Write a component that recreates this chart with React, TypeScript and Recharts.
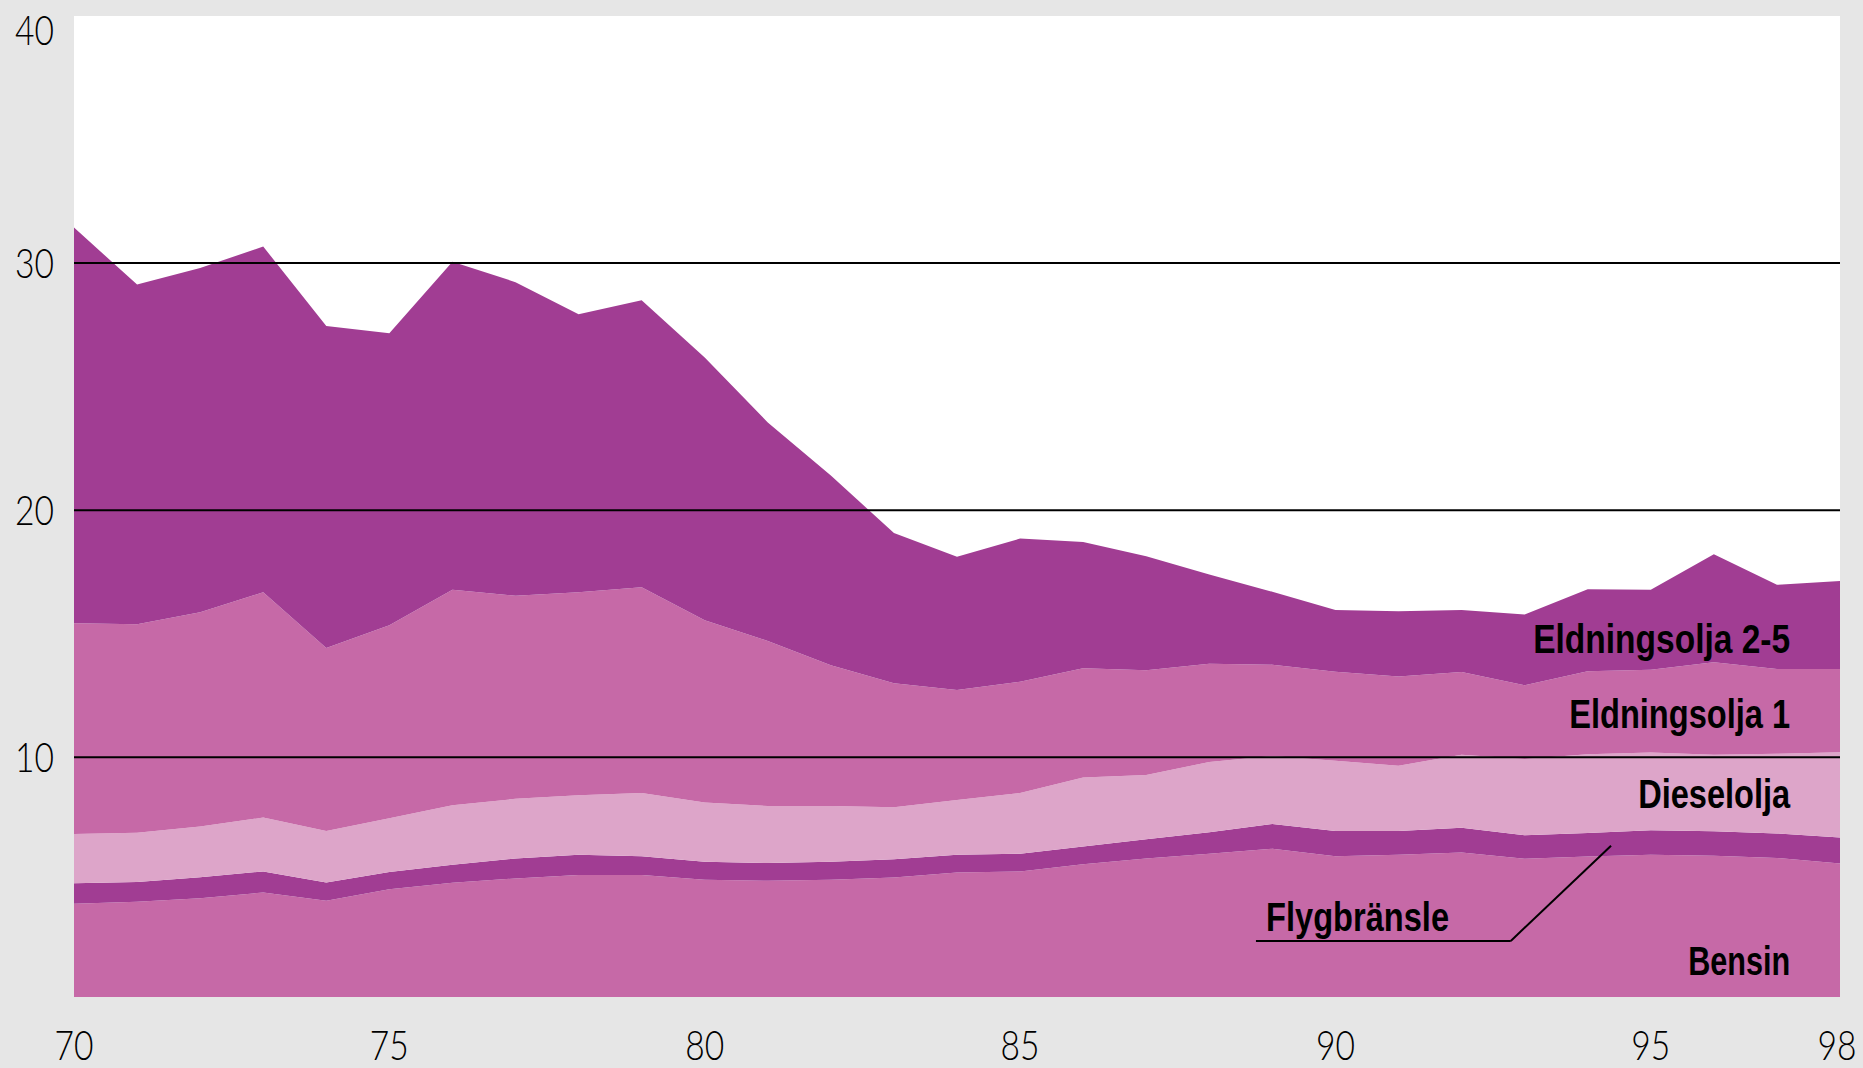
import { AreaChart, Area, XAxis, YAxis, CartesianGrid, ReferenceLine, ReferenceDot } from 'recharts'

// år 1970–1998, miljoner m3
const years = [70, 71, 72, 73, 74, 75, 76, 77, 78, 79, 80, 81, 82, 83, 84, 85, 86, 87, 88, 89, 90, 91, 92, 93, 94, 95, 96, 97, 98]
const bensin = [4.07, 4.15, 4.3, 4.53, 4.2, 4.66, 4.92, 5.1, 5.24, 5.24, 5.05, 5.0, 5.05, 5.14, 5.34, 5.38, 5.67, 5.91, 6.1, 6.3, 6.0, 6.06, 6.15, 5.89, 5.99, 6.06, 6.02, 5.93, 5.7]
const flyg = [0.83, 0.8, 0.85, 0.85, 0.73, 0.7, 0.73, 0.81, 0.82, 0.76, 0.72, 0.72, 0.72, 0.73, 0.72, 0.72, 0.72, 0.77, 0.87, 1.0, 1.02, 0.96, 1.0, 0.96, 0.95, 0.99, 0.99, 0.99, 1.05]
const diesel = [2.0, 2.0, 2.05, 2.18, 2.09, 2.17, 2.41, 2.41, 2.4, 2.56, 2.4, 2.31, 2.26, 2.11, 2.21, 2.46, 2.79, 2.6, 2.84, 2.75, 2.84, 2.64, 2.95, 3.08, 3.18, 3.14, 3.09, 3.22, 3.45]
const eo1 = [8.53, 8.43, 8.67, 9.12, 7.4, 7.81, 8.72, 8.22, 8.22, 8.32, 7.38, 6.68, 5.7, 5.02, 4.45, 4.5, 4.42, 4.24, 3.98, 3.7, 3.6, 3.61, 3.35, 2.99, 3.36, 3.35, 3.75, 3.43, 3.37]
const eo25 = [16.01, 13.75, 13.93, 13.99, 13.03, 11.82, 13.27, 12.69, 11.25, 11.62, 10.63, 8.84, 7.67, 6.08, 5.4, 5.79, 5.11, 4.62, 3.61, 2.95, 2.5, 2.64, 2.51, 2.86, 3.32, 3.24, 4.37, 3.41, 3.57]

const xTicks = [70, 75, 80, 85, 90, 95, 98]
const yTicks = [10, 20, 30, 40]
const gridValues = [10, 20, 30]

const DARK = '#a13d93'
const MID = '#c669a7'
const LIGHT = '#dda5c9'
const TICK_FONT = 'Lato, "Liberation Sans", sans-serif'
const LABEL_FONT = '"Liberation Sans", Arial, sans-serif'

const data = years.map((year, i) => ({
  year,
  bensin: bensin[i],
  flyg: flyg[i],
  diesel: diesel[i],
  eo1: eo1[i],
  eo25: eo25[i],
}))

// etiketter i diagrammet (högerställda), w = textbredd
const seriesLabels = [
  { text: 'Eldningsolja 2-5', x: 97.21, y: 14.23, w: 257 },
  { text: 'Eldningsolja 1', x: 97.21, y: 11.19, w: 221 },
  { text: 'Dieselolja', x: 97.21, y: 7.96, w: 152 },
  { text: 'Bensin', x: 97.21, y: 1.19, w: 102 },
]

function YTick({ x, y, payload }: any) {
  const shift = payload.value === 40 ? 14 : 0
  return (
    <text
      x={x - 20}
      y={y + shift}
      dy="0.36em"
      textAnchor="end"
      fontSize={42}
      fontWeight={300}
      fontFamily={TICK_FONT}
      textLength={39}
      lengthAdjust="spacingAndGlyphs"
      fill="#000"
    >
      {payload.value}
    </text>
  )
}

function XTick({ x, y, payload }: any) {
  // sista etiketten ligger mot kanten
  const nudge = payload.value === 98 ? -3 : 0
  return (
    <text
      x={x + nudge}
      y={y + 63}
      textAnchor="middle"
      fontSize={42}
      fontWeight={300}
      fontFamily={TICK_FONT}
      textLength={39}
      lengthAdjust="spacingAndGlyphs"
      fill="#000"
    >
      {payload.value}
    </text>
  )
}

function labelShape(text: string, anchor: 'start' | 'end', w: number) {
  return (props: any) => (
    <text
      x={props.cx}
      y={props.cy}
      textAnchor={anchor}
      fontSize={41}
      fontWeight="bold"
      fontFamily={LABEL_FONT}
      textLength={w}
      lengthAdjust="spacingAndGlyphs"
      fill="#000"
    >
      {text}
    </text>
  )
}

export default function App() {
  return (
    <div style={{ position: 'absolute', top: 0, left: 0, width: 1863, height: 1068, background: '#e6e6e6' }}>
      <AreaChart width={1863} height={1068} data={data} margin={{ top: 16, right: 23, bottom: 0, left: 0 }}>
        <CartesianGrid fill="#ffffff" horizontal={false} vertical={false} />
        <XAxis
          dataKey="year"
          type="number"
          domain={[70, 98]}
          ticks={xTicks}
          interval={0}
          axisLine={false}
          tickLine={false}
          tickSize={0}
          tickMargin={0}
          height={71}
          tick={<XTick />}
          allowDataOverflow
        />
        <YAxis
          domain={[0.3, 40]}
          ticks={yTicks}
          interval={0}
          axisLine={false}
          tickLine={false}
          tickSize={0}
          tickMargin={0}
          width={74}
          tick={<YTick />}
          allowDataOverflow
        />
        <Area type="linear" dataKey="bensin" stackId="1" fill={MID} fillOpacity={1} stroke="none" isAnimationActive={false} />
        <Area type="linear" dataKey="flyg" stackId="1" fill={DARK} fillOpacity={1} stroke="none" isAnimationActive={false} />
        <Area type="linear" dataKey="diesel" stackId="1" fill={LIGHT} fillOpacity={1} stroke="none" isAnimationActive={false} />
        <Area type="linear" dataKey="eo1" stackId="1" fill={MID} fillOpacity={1} stroke="none" isAnimationActive={false} />
        <Area type="linear" dataKey="eo25" stackId="1" fill={DARK} fillOpacity={1} stroke="none" isAnimationActive={false} />
        {gridValues.map((v) => (
          <ReferenceLine key={v} y={v} stroke="#000" strokeWidth={2} />
        ))}
        <ReferenceLine segment={[{ x: 88.74, y: 2.57 }, { x: 92.78, y: 2.57 }]} stroke="#000" strokeWidth={2} />
        <ReferenceLine segment={[{ x: 92.78, y: 2.57 }, { x: 94.37, y: 6.42 }]} stroke="#000" strokeWidth={2} />
        {seriesLabels.map((l) => (
          <ReferenceDot key={l.text} x={l.x} y={l.y} r={0} shape={labelShape(l.text, 'end', l.w)} />
        ))}
        <ReferenceDot x={88.9} y={2.98} r={0} shape={labelShape('Flygbränsle', 'start', 183)} />
      </AreaChart>
    </div>
  )
}
